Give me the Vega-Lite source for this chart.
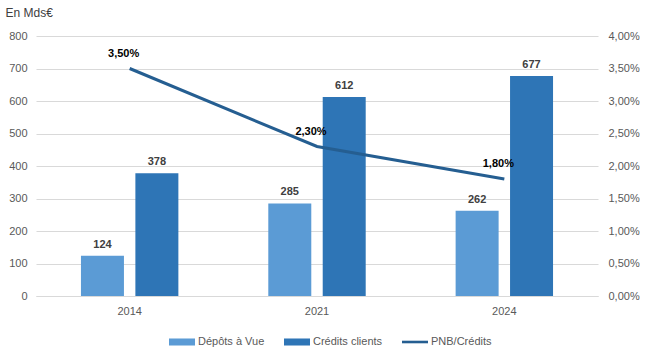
{
  "$schema": "https://vega.github.io/schema/vega-lite/v6.json",
  "width": 562,
  "height": 260,
  "autosize": {"type": "none"},
  "padding": {"left": 36, "top": 36, "right": 51, "bottom": 63},
  "background": "white",
  "config": {
    "view": {"stroke": null},
    "font": "Liberation Sans",
    "legend": {"title": null, "orient": "none", "legendX": 133, "legendY": 293, "direction": "horizontal", "symbolOpacity": 1, "symbolSize": 676, "symbolStrokeWidth": 0, "labelFontSize": 11, "labelColor": "#595959", "labelOffset": 3, "columnPadding": 19},
    "locale": {"number": {"decimal": ",", "thousands": " ", "grouping": [3], "currency": ["", " €"]}}
  },
  "data": {
    "values": [
      {"annee": "2014", "serie": "Dépôts à Vue", "valeur": 124},
      {"annee": "2014", "serie": "Crédits clients", "valeur": 378},
      {"annee": "2014", "serie": "PNB/Crédits", "valeur": 0.035},
      {"annee": "2021", "serie": "Dépôts à Vue", "valeur": 285},
      {"annee": "2021", "serie": "Crédits clients", "valeur": 612},
      {"annee": "2021", "serie": "PNB/Crédits", "valeur": 0.023},
      {"annee": "2024", "serie": "Dépôts à Vue", "valeur": 262},
      {"annee": "2024", "serie": "Crédits clients", "valeur": 677},
      {"annee": "2024", "serie": "PNB/Crédits", "valeur": 0.018}
    ]
  },
  "encoding": {
    "x": {
      "field": "annee", "type": "nominal",
      "scale": {"paddingInner": 0.48, "paddingOuter": 0.24},
      "axis": {"title": null, "labelAngle": 0, "labelColor": "#595959", "labelFontSize": 11, "ticks": false, "domainColor": "#D9D9D9", "labelPadding": 9}
    }
  },
  "layer": [
    {
      "encoding": {
        "y": {"field": "valeur", "type": "quantitative", "scale": {"domain": [0, 800]},
          "axis": {"title": "En Mds€", "titleAngle": 0, "titleAlign": "left", "titleBaseline": "middle", "titleX": -31, "titleY": -24, "titleFontSize": 12, "titleFontWeight": "normal", "titleColor": "#404040",
            "values": [0,100,200,300,400,500,600,700,800], "labelColor": "#595959", "labelFontSize": 11, "ticks": false, "domain": false, "gridColor": "#D9D9D9", "labelPadding": 9}}
      },
      "layer": [
        {
          "mark": {"type": "point", "opacity": 0, "filled": true},
          "encoding": {
            "color": {"field": "serie", "type": "nominal",
              "scale": {"domain": ["Dépôts à Vue", "Crédits clients", "PNB/Crédits"], "range": ["#5B9BD5", "#2E75B6", "#255E91"]}},
            "shape": {"field": "serie", "type": "nominal",
              "scale": {"domain": ["Dépôts à Vue", "Crédits clients", "PNB/Crédits"], "range": ["M-1,-0.27H1V0.27H-1Z", "M-1,-0.27H1V0.27H-1Z", "M-1,-0.1H1V0.1H-1Z"]}}
          }
        },
        {
          "transform": [{"filter": "datum.serie !== 'PNB/Crédits'"}],
          "mark": {"type": "bar"},
          "encoding": {
            "xOffset": {"field": "serie", "type": "nominal", "sort": ["Dépôts à Vue", "Crédits clients"], "scale": {"paddingInner": 0.21, "paddingOuter": 0}},
            "color": {"field": "serie", "type": "nominal"}
          }
        },
        {
          "transform": [{"filter": "datum.serie !== 'PNB/Crédits'"}],
          "mark": {"type": "text", "fontWeight": "bold", "fontSize": 11, "color": "#404040", "baseline": "bottom", "dy": -6},
          "encoding": {
            "xOffset": {"field": "serie", "type": "nominal", "sort": ["Dépôts à Vue", "Crédits clients"]},
            "text": {"field": "valeur", "type": "quantitative"}
          }
        }
      ]
    },
    {
      "transform": [{"filter": "datum.serie === 'PNB/Crédits'"}],
      "encoding": {
        "y": {"field": "valeur", "type": "quantitative", "scale": {"domain": [0, 0.04]},
          "axis": {"orient": "right", "title": null, "format": ".2%", "values": [0,0.005,0.01,0.015,0.02,0.025,0.03,0.035,0.04], "labelColor": "#595959", "labelFontSize": 11, "ticks": false, "domain": false, "grid": false, "labelPadding": 10}}
      },
      "layer": [
        {
          "mark": {"type": "line", "color": "#255E91", "strokeWidth": 3}
        },
        {
          "mark": {"type": "text", "fontWeight": "bold", "fontSize": 11, "color": "#000000", "baseline": "bottom", "dy": -10, "dx": -6},
          "encoding": {
            "text": {"field": "valeur", "type": "quantitative", "format": ".2%"}
          }
        }
      ]
    }
  ],
  "resolve": {"scale": {"y": "independent"}}
}
